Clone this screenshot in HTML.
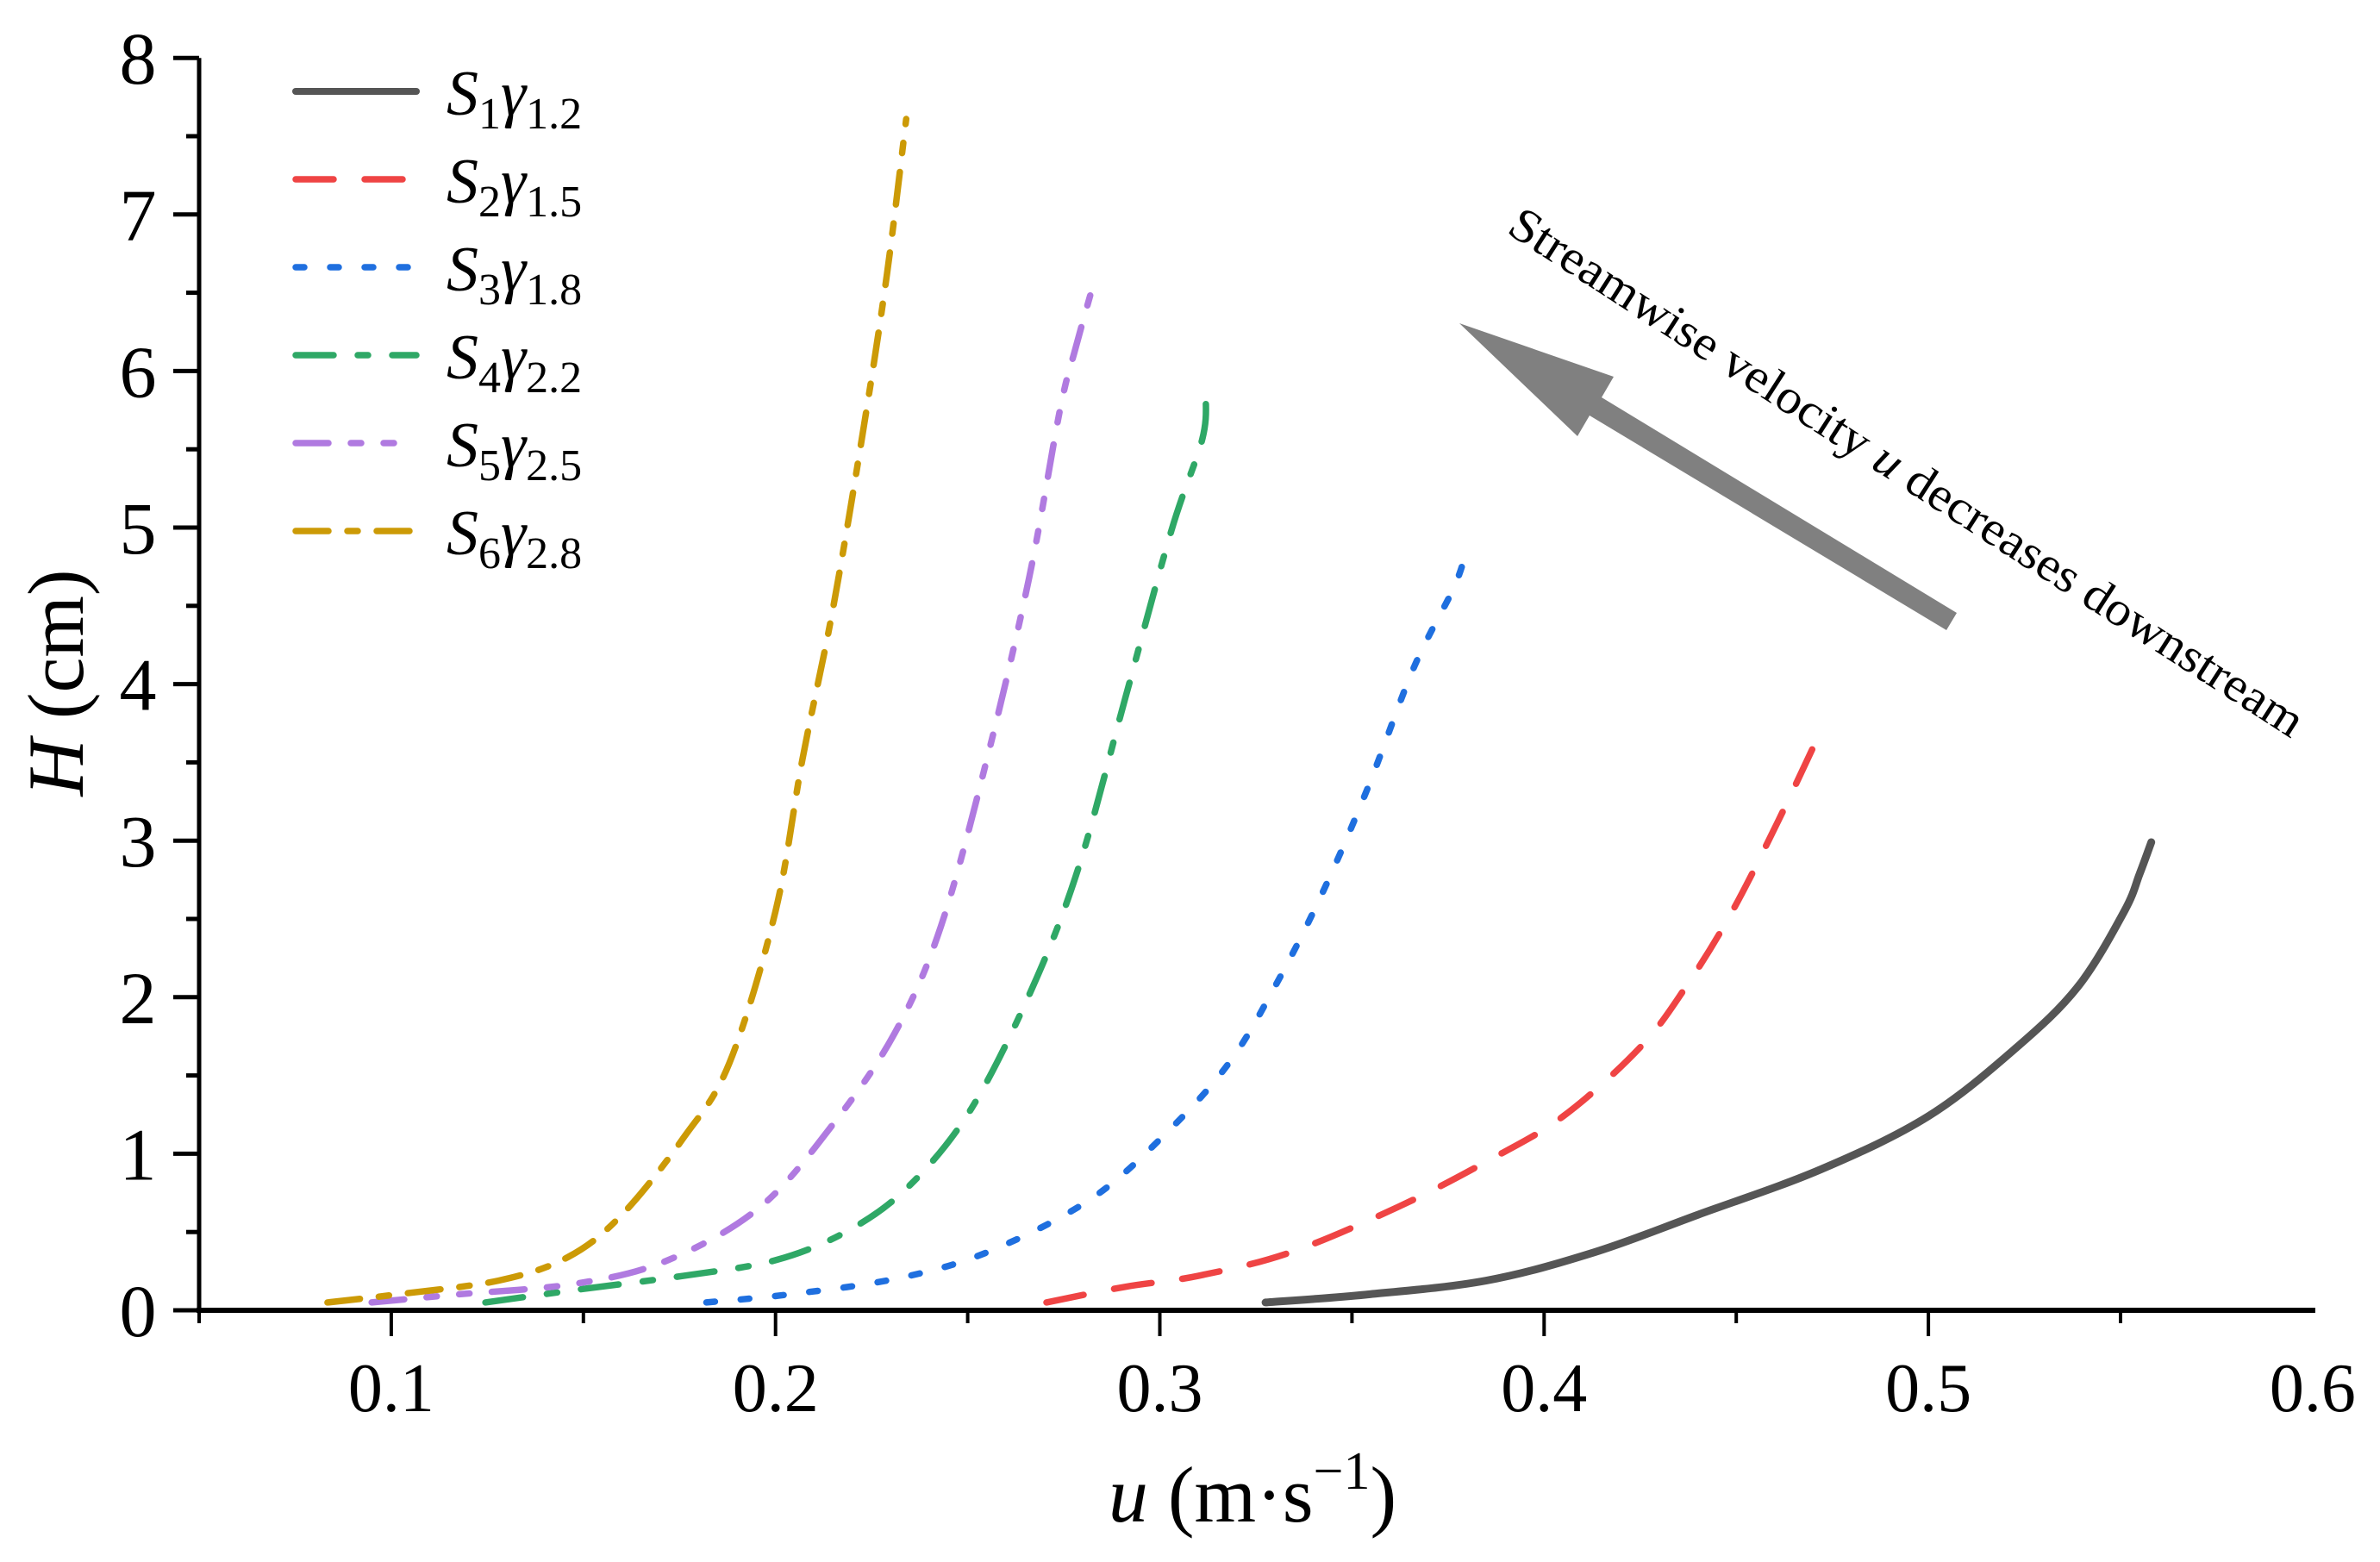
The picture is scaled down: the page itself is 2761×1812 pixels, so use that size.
<!DOCTYPE html>
<html><head><meta charset="utf-8"><style>
html,body{margin:0;padding:0;background:#fff}
svg,svg text{font-family:"Liberation Serif","Times New Roman",serif}
</style></head><body>
<svg id="chart" width="2761" height="1807" viewBox="0 0 2761 1807" xmlns="http://www.w3.org/2000/svg" font-family="Liberation Serif, serif">
<g id="axes"></g>
<g id="series"></g>
<g id="legend"></g>
<g>
<polygon points="2270,711 2258,731 1844,482 1830,506 1693,375 1872,437 1858,461" fill="#808080"/>
<text x="2212" y="548" font-size="56" text-anchor="middle" dominant-baseline="central" transform="rotate(32.8 2212 548)" textLength="1085" lengthAdjust="spacingAndGlyphs">Streamwise velocity <tspan font-style="italic">u</tspan> decreases downstream</text>
</g>
<text x="1453" y="1765" font-size="92" text-anchor="middle"><tspan font-style="italic">u</tspan> (m·s<tspan dy="-38" font-size="62">−1</tspan><tspan dy="38">)</tspan></text>
<text x="96" y="792" font-size="92" text-anchor="middle" transform="rotate(-90 96 792)"><tspan font-style="italic">H</tspan> (cm)</text>
</svg>
<script>
const xTicks=[0.1,0.2,0.3,0.4,0.5,0.6];
const yTicks=[0,1,2,3,4,5,6,7,8];
const names=['S1','S2','S3','S4','S5','S6'];
const subs=['1','2','3','4','5','6'];
const gammas=['1.2','1.5','1.8','2.2','2.5','2.8'];
const s1u=[0.3275,0.3536,0.385,0.413,0.44,0.472,0.5,0.523,0.539,0.551,0.555,0.558];
const s1h=[0.05,0.1,0.19,0.37,0.61,0.9,1.24,1.68,2.07,2.55,2.79,2.99];
const s2u=[0.2705,0.291,0.31,0.334,0.362,0.385,0.405,0.425,0.437,0.449,0.461,0.472];
const s2h=[0.05,0.15,0.22,0.37,0.66,0.95,1.24,1.68,2.07,2.55,3.13,3.7];
const s3u=[0.182,0.203,0.231,0.255,0.282,0.302,0.318,0.33,0.342,0.354,0.366,0.376,0.379];
const s3h=[0.05,0.1,0.2,0.37,0.71,1.14,1.58,2.07,2.65,3.33,4.1,4.59,4.78];
const s4u=[0.1245,0.148,0.176,0.2,0.219,0.235,0.251,0.267,0.279,0.291,0.303,0.311,0.312];
const s4h=[0.05,0.13,0.22,0.32,0.51,0.8,1.29,2.07,2.84,3.91,4.98,5.56,5.83];
const s5u=[0.0949,0.1166,0.148,0.172,0.196,0.215,0.231,0.243,0.255,0.266,0.274,0.278,0.283];
const s5h=[0.05,0.1,0.17,0.32,0.66,1.19,1.77,2.45,3.52,4.68,5.75,6.14,6.58];
const s6u=[0.0834,0.101,0.128,0.146,0.16,0.176,0.188,0.2,0.207,0.215,0.223,0.229,0.234];
const s6h=[0.05,0.1,0.19,0.34,0.61,1.1,1.58,2.55,3.52,4.49,5.65,6.62,7.61];

const X0=231,Y0=1520;
function xs(u){return 231+(u-0.05)*4458;}
function ys(h){return 1520-h*181.6;}
const NS='http://www.w3.org/2000/svg';
function mk(tag,parent,attrs){const e=document.createElementNS(NS,tag);for(const k in attrs)e.setAttribute(k,attrs[k]);parent.appendChild(e);return e;}
const axes=document.getElementById('axes');
let e;
e=mk('line',axes,{x1:X0,y1:ys(8),x2:X0,y2:Y0+3,stroke:'#000','stroke-width':5});


e=mk('line',axes,{x1:X0-3,y1:Y0,x2:xs(0.6)+3,y2:Y0,stroke:'#000','stroke-width':6});


for(let i=0;i<11;i++){
  const u=0.05+i*0.05, major=(i%2===1);
  e=mk('line',axes,{x1:xs(u),y1:Y0,x2:xs(u),y2:Y0+(major?30:15),stroke:'#000','stroke-width':4});
  
  
}
xTicks.forEach(t=>{
  e=mk('text',axes,{x:xs(t),y:1637,'font-size':80,'text-anchor':'middle'});
  e.textContent=t.toFixed(1);
  
  
});
for(let i=0;i<=16;i++){
  const h=i*0.5, major=(i%2===0);
  e=mk('line',axes,{x1:X0-(major?30:15),y1:ys(h),x2:X0,y2:ys(h),stroke:'#000','stroke-width':5});
  
  
}
yTicks.forEach(t=>{
  e=mk('text',axes,{x:160,y:ys(t)+30,'font-size':86,'text-anchor':'middle'});
  e.textContent=String(t);
  
  
});
const colors=['#555555','#ef4444','#1f6fdf','#2fa866','#b07ae0','#cc9a06'];
const dashes=['none','44 36','10 30','44 28 12 28','38 26 12 26 12 26','38 22 12 22'];
const U=[s1u,s2u,s3u,s4u,s5u,s6u],Hs=[s1h,s2h,s3h,s4h,s5h,s6h];
const ser=document.getElementById('series');
function smooth(pts){let d='M'+pts[0][0]+','+pts[0][1];for(let i=0;i<pts.length-1;i++){const p0=pts[i-1]||pts[i],p1=pts[i],p2=pts[i+1],p3=pts[i+2]||p2;const c1=[p1[0]+(p2[0]-p0[0])/6,p1[1]+(p2[1]-p0[1])/6],c2=[p2[0]-(p3[0]-p1[0])/6,p2[1]-(p3[1]-p1[1])/6];d+='C'+c1+' '+c2+' '+p2;}return d;}
U.forEach((uu,k)=>{
  const pts=uu.map((u,i)=>[xs(u),ys(Hs[k][i])]);
  e=mk('path',ser,{d:smooth(pts),fill:'none',stroke:colors[k],'stroke-width':k===0?9:7.5,'stroke-dasharray':dashes[k],'stroke-linecap':'round'});
  
  
});
const leg=document.getElementById('legend');
names.forEach((n,k)=>{
  const y=106+k*102;
  e=mk('line',leg,{x1:343,y1:y,x2:483,y2:y,stroke:colors[k],'stroke-width':k===0?8:7.5,'stroke-dasharray':dashes[k],'stroke-linecap':'round'});
  
  
  e=mk('text',leg,{x:518,y:y+27,'font-size':74});
  
  
  e.innerHTML='<tspan font-style="italic">S</tspan><tspan font-size="52" dy="16">'+subs[k]+'</tspan><tspan font-style="italic" dy="-16">γ</tspan><tspan font-size="52" dy="16">'+gammas[k]+'</tspan>';
});
</script>
</body></html>
